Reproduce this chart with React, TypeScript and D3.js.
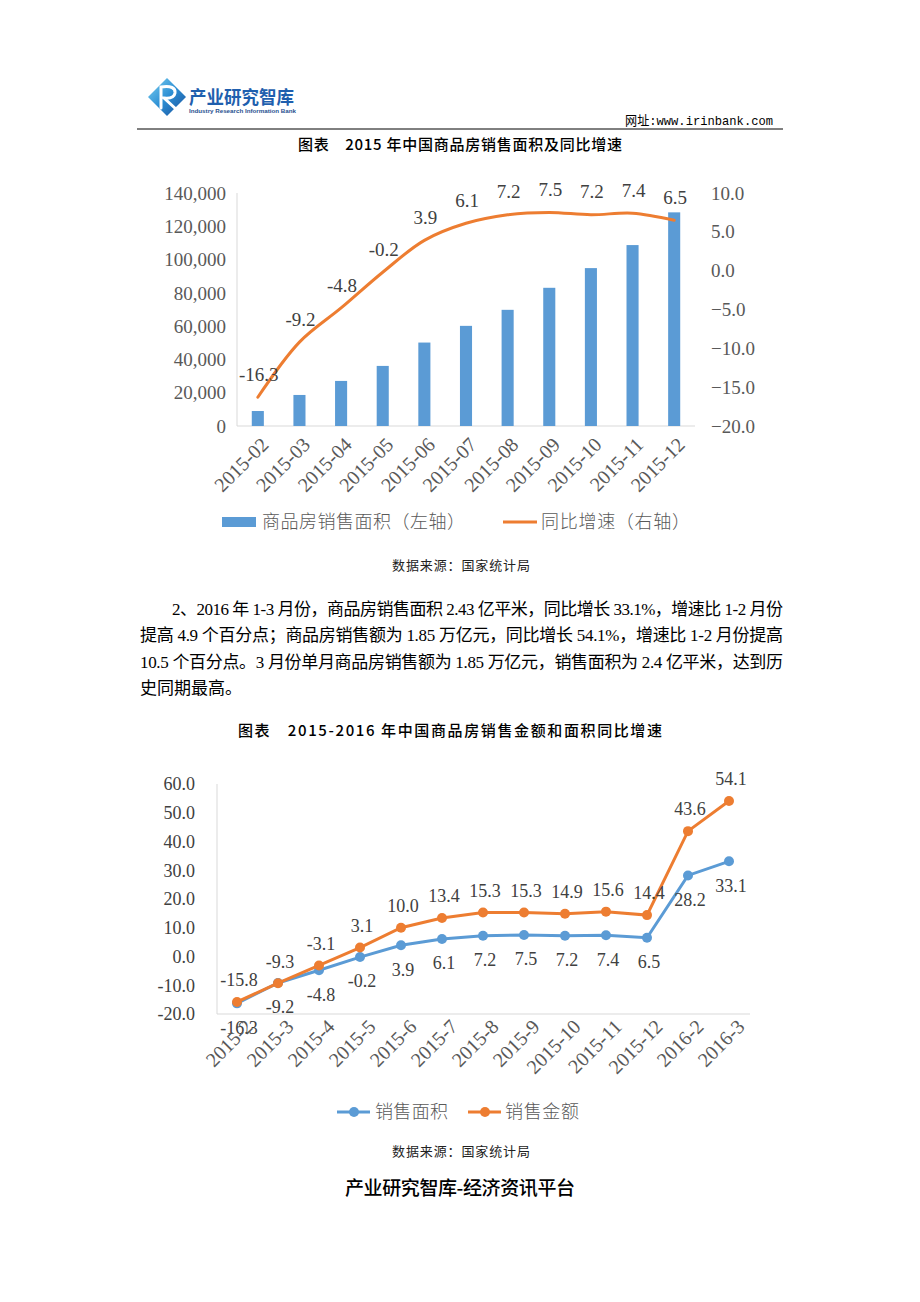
import React from "react";
import * as d3 from "d3";

// ---------- Chart 1 data ----------
const months1 = ["2015-02", "2015-03", "2015-04", "2015-05", "2015-06", "2015-07", "2015-08", "2015-09", "2015-10", "2015-11", "2015-12"];
const salesArea = [9000, 18650, 27080, 36100, 50140, 60170, 69800, 83040, 94870, 108710, 128370];
const areaGrowth1 = [-16.3, -9.2, -4.8, -0.2, 3.9, 6.1, 7.2, 7.5, 7.2, 7.4, 6.5];
const leftTicks1 = [0, 20000, 40000, 60000, 80000, 100000, 120000, 140000];
const rightTicks1 = [-20, -15, -10, -5, 0, 5, 10];

// ---------- Chart 2 data ----------
const months2 = ["2015-2", "2015-3", "2015-4", "2015-5", "2015-6", "2015-7", "2015-8", "2015-9", "2015-10", "2015-11", "2015-12", "2016-2", "2016-3"];
const areaGrowth2 = [-16.3, -9.2, -4.8, -0.2, 3.9, 6.1, 7.2, 7.5, 7.2, 7.4, 6.5, 28.2, 33.1];
const amountGrowth = [-15.8, -9.3, -3.1, 3.1, 10.0, 13.4, 15.3, 15.3, 14.9, 15.6, 14.4, 43.6, 54.1];
const ticks2 = [-20, -10, 0, 10, 20, 30, 40, 50, 60];

// ---------- texts ----------
const paragraphLines = [
  "2、2016 年 1-3 月份，商品房销售面积 2.43 亿平米，同比增长 33.1%，增速比 1-2 月份",
  "提高 4.9 个百分点；商品房销售额为 1.85 万亿元，同比增长 54.1%，增速比 1-2 月份提高",
  "10.5 个百分点。3 月份单月商品房销售额为 1.85 万亿元，销售面积为 2.4 亿平米，达到历",
  "史同期最高。",
];

const BLUE = "#5B9BD5";
const ORANGE = "#ED7D31";
const AXIS_TXT = "#595959";
const LABEL_TXT = "#404040";
const SERIF = "'Liberation Serif', 'Noto Sans CJK SC', serif";
const CJK = "'Noto Sans CJK SC', sans-serif";

function Chart1() {
  const x = d3.scaleBand<string>().domain(months1).range([237, 695]).paddingInner(0).paddingOuter(0);
  const yL = d3.scaleLinear().domain([0, 140000]).range([426, 193]);
  const yR = d3.scaleLinear().domain([-20, 10]).range([426, 193]);
  const bw = x.bandwidth() * 0.29;
  const cx = (m: string) => (x(m) as number) + x.bandwidth() / 2;
  const line = d3
    .line<number>()
    .x((_, i) => cx(months1[i]))
    .y((d) => yR(d))
    .curve(d3.curveCatmullRom.alpha(0.5));
  const fmtL = d3.format(",");
  const fmtR = d3.format(".1f");
  return (
    <g>
      <line x1={237} x2={237} y1={193} y2={426} stroke="#d9d9d9" strokeWidth={1} />
      <line x1={237} x2={695} y1={426} y2={426} stroke="#d9d9d9" strokeWidth={1} />
      {leftTicks1.map((t) => (
        <text key={t} x={226} y={yL(t)} dy="0.35em" textAnchor="end" fontFamily={SERIF} fontSize={19} fill={AXIS_TXT}>
          {fmtL(t)}
        </text>
      ))}
      {rightTicks1.map((t) => (
        <text key={t} x={711} y={yR(t)} dy="0.35em" textAnchor="start" fontFamily={SERIF} fontSize={19} fill={AXIS_TXT}>
          {fmtR(t)}
        </text>
      ))}
      {salesArea.map((v, i) => (
        <rect key={i} x={cx(months1[i]) - bw / 2} y={yL(v)} width={bw} height={yL(0) - yL(v)} fill={BLUE} />
      ))}
      <path d={line(areaGrowth1) || ""} fill="none" stroke={ORANGE} strokeWidth={3} strokeLinecap="round" />
      {areaGrowth1.map((v, i) => (
        <text key={i} x={cx(months1[i]) + 1} y={yR(v) - 23} dy="0.35em" textAnchor="middle" fontFamily={SERIF} fontSize={19} fill={LABEL_TXT}>
          {v.toFixed(1)}
        </text>
      ))}
      {months1.map((m) => (
        <text key={m} transform={`translate(${cx(m) + 7},${441}) rotate(-45)`} dy="0.35em" textAnchor="end" fontFamily={SERIF} fontSize={20} fill={AXIS_TXT}>
          {m}
        </text>
      ))}
      {/* legend */}
      <rect x={222} y={517} width={34} height={10} fill={BLUE} />
      <text x={262} y={522} dy="0.35em" fontFamily={CJK} fontWeight={300} fontSize={18} fill={AXIS_TXT} textLength={203} lengthAdjust="spacing">
        商品房销售面积（左轴）
      </text>
      <line x1={503} x2={537} y1={522} y2={522} stroke={ORANGE} strokeWidth={3} />
      <text x={541} y={522} dy="0.35em" fontFamily={CJK} fontWeight={300} fontSize={18} fill={AXIS_TXT} textLength={149} lengthAdjust="spacing">
        同比增速（右轴）
      </text>
    </g>
  );
}

function Chart2() {
  const x = d3.scalePoint<string>().domain(months2).range([237, 729]);
  const y = d3.scaleLinear().domain([-20, 60]).range([1014, 784]);
  const line = d3
    .line<number>()
    .x((_, i) => x(months2[i]) as number)
    .y((d) => y(d));
  return (
    <g>
      <line x1={217} x2={217} y1={784} y2={1014} stroke="#d9d9d9" strokeWidth={1} />
      <line x1={217} x2={750} y1={1014} y2={1014} stroke="#d9d9d9" strokeWidth={1} />
      {ticks2.map((t) => (
        <text key={t} x={195} y={y(t)} dy="0.35em" textAnchor="end" fontFamily={SERIF} fontSize={18} fill={LABEL_TXT}>
          {t.toFixed(1)}
        </text>
      ))}
      <path d={line(areaGrowth2) || ""} fill="none" stroke={BLUE} strokeWidth={3} />
      {areaGrowth2.map((v, i) => (
        <circle key={i} cx={x(months2[i])} cy={y(v)} r={5} fill={BLUE} />
      ))}
      <path d={line(amountGrowth) || ""} fill="none" stroke={ORANGE} strokeWidth={3} />
      {amountGrowth.map((v, i) => (
        <circle key={i} cx={x(months2[i])} cy={y(v)} r={5} fill={ORANGE} />
      ))}
      {areaGrowth2.map((v, i) => (
        <text key={i} x={(x(months2[i]) as number) + 2} y={y(v) + 24} dy="0.35em" textAnchor="middle" fontFamily={SERIF} fontSize={18} fill={LABEL_TXT}>
          {v.toFixed(1)}
        </text>
      ))}
      {amountGrowth.map((v, i) => (
        <text key={i} x={(x(months2[i]) as number) + 2} y={y(v) - 22} dy="0.35em" textAnchor="middle" fontFamily={SERIF} fontSize={18} fill={LABEL_TXT}>
          {v.toFixed(1)}
        </text>
      ))}
      {months2.map((m) => (
        <text key={m} transform={`translate(${(x(m) as number) + 12},${1023}) rotate(-45)`} dy="0.35em" textAnchor="end" fontFamily={SERIF} fontSize={20} fill={AXIS_TXT}>
          {m}
        </text>
      ))}
      {/* legend */}
      <line x1={337} x2={370} y1={1112} y2={1112} stroke={BLUE} strokeWidth={3} />
      <circle cx={354} cy={1112} r={5} fill={BLUE} />
      <text x={375} y={1112} dy="0.35em" fontFamily={CJK} fontWeight={300} fontSize={18} fill={AXIS_TXT} textLength={73} lengthAdjust="spacing">
        销售面积
      </text>
      <line x1={468} x2={501} y1={1112} y2={1112} stroke={ORANGE} strokeWidth={3} />
      <circle cx={485} cy={1112} r={5} fill={ORANGE} />
      <text x={505} y={1112} dy="0.35em" fontFamily={CJK} fontWeight={300} fontSize={18} fill={AXIS_TXT} textLength={74} lengthAdjust="spacing">
        销售金额
      </text>
    </g>
  );
}

function Header() {
  return (
    <g>
      <defs>
        <linearGradient id="logoGrad" x1="0" y1="0" x2="1" y2="1">
          <stop offset="0" stopColor="#7fd3f2" />
          <stop offset="0.5" stopColor="#2d8fd4" />
          <stop offset="1" stopColor="#1a4f9a" />
        </linearGradient>
      </defs>
      <polygon points="167,78 186,97 167,116 148,97" fill="url(#logoGrad)" />
      <path d="M161,108 L161,87 Q176,85 175,93 Q174,99 164,98 L177,110" fill="none" stroke="#ffffff" strokeWidth={3} strokeLinecap="round" />
      <text x={189} y={104} fontFamily={CJK} fontWeight={700} fontSize={18} fill="#1f5fae" textLength={105} lengthAdjust="spacingAndGlyphs">
        产业研究智库
      </text>
      <text x={189} y={113} fontFamily="'Liberation Sans', sans-serif" fontWeight={700} fontSize={6} fill="#1f4f8f" textLength={107} lengthAdjust="spacingAndGlyphs">
        Industry Research Information Bank
      </text>
      <text x={773} y={125} textAnchor="end" fontFamily="'Liberation Mono', 'Noto Sans CJK SC', monospace" fontSize={13} fill="#000" textLength={148} lengthAdjust="spacingAndGlyphs">
        网址:www.irinbank.com
      </text>
      <line x1={137} x2={783} y1={129} y2={129} stroke="#000" strokeWidth={1} />
    </g>
  );
}

export default function App() {
  return (
    <svg width={920} height={1302} viewBox="0 0 920 1302" style={{ position: "absolute", left: 0, top: 0, background: "#fff" }}>
      <rect x={0} y={0} width={920} height={1302} fill="#fff" />
      <Header />
      <text x={298} y={145} dy="0.35em" fontFamily={CJK} fontWeight={500} fontSize={15} fill="#000" textLength={324} lengthAdjust="spacing">
        图表　2015 年中国商品房销售面积及同比增速
      </text>
      <Chart1 />
      <text x={461} y={565} dy="0.35em" textAnchor="middle" fontFamily={CJK} fontSize={13} fill="#222" textLength={138} lengthAdjust="spacing">
        数据来源：国家统计局
      </text>
      {paragraphLines.map((l, i) => {
        const x0 = i === 0 ? 172 : 140;
        const last = i === paragraphLines.length - 1;
        return (
          <text
            key={i}
            x={x0}
            y={609 + i * 26.4}
            dy="0.35em"
            fontFamily={SERIF}
            fontSize={17}
            fill="#000"
            textLength={last ? undefined : 783 - x0}
            lengthAdjust="spacing"
          >
            {l}
          </text>
        );
      })}
      <text x={238} y={731} dy="0.35em" fontFamily={CJK} fontWeight={500} fontSize={15} fill="#000" textLength={424} lengthAdjust="spacing">
        图表　2015-2016 年中国商品房销售金额和面积同比增速
      </text>
      <Chart2 />
      <text x={461} y={1151} dy="0.35em" textAnchor="middle" fontFamily={CJK} fontSize={13} fill="#222" textLength={138} lengthAdjust="spacing">
        数据来源：国家统计局
      </text>
      <text x={345} y={1188} dy="0.35em" fontFamily={CJK} fontWeight={500} fontSize={19} fill="#000" textLength={230} lengthAdjust="spacing">
        产业研究智库-经济资讯平台
      </text>
    </svg>
  );
}
